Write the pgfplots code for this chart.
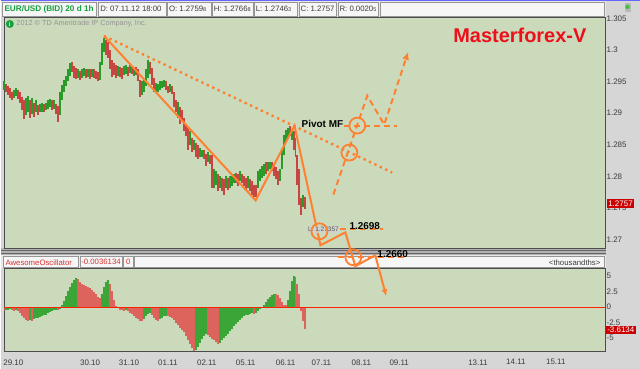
\documentclass[border=0pt]{standalone}
\usepackage{fontspec}
\setmainfont{Liberation Sans}
\usepackage{pgfplots}
\pgfplotsset{compat=1.18}
\usepackage{pgfplotstable}
\usetikzlibrary{arrows.meta}
\definecolor{panelbg}{RGB}{204,218,188}
\definecolor{outerbg}{RGB}{214,214,214}
\definecolor{hdrbg}{RGB}{232,232,232}
\definecolor{boxbg}{RGB}{246,246,246}
\definecolor{boxbd}{RGB}{150,150,150}
\definecolor{cgreen}{RGB}{40,155,40}
\definecolor{cred}{RGB}{200,70,66}
\definecolor{aogreen}{RGB}{60,165,55}
\definecolor{aored}{RGB}{220,100,92}
\definecolor{mfo}{RGB}{255,128,48}
\definecolor{tdgreen}{RGB}{20,160,60}
\definecolor{lblred}{RGB}{204,0,0}
\definecolor{txtgrey}{RGB}{60,60,60}
\definecolor{titlered}{RGB}{235,16,26}

% hourly bars: x position, low, high (price)
\pgfplotstableread{
x lo hi
3 1.2937 1.2950
13 1.2924 1.2937
15 1.2927 1.2940
25 1.2897 1.2924
27 1.2902 1.2927
31 1.2899 1.2924
35 1.2902 1.2921
39 1.2901 1.2915
41 1.2902 1.2916
45 1.2905 1.2916
47 1.2907 1.2920
49 1.2909 1.2923
53 1.2907 1.2920
59 1.2897 1.2934
61 1.2921 1.2945
63 1.2934 1.2953
65 1.2943 1.2959
67 1.2950 1.2969
69 1.2959 1.2980
77 1.2956 1.2969
81 1.2956 1.2969
83 1.2959 1.2972
87 1.2957 1.2970
91 1.2957 1.2970
99 1.2953 1.2981
101 1.2976 1.3011
103 1.2997 1.3019
117 1.2959 1.2975
123 1.2961 1.2975
125 1.2962 1.2976
129 1.2964 1.2976
133 1.2959 1.2972
141 1.2929 1.2950
143 1.2934 1.2953
145 1.2943 1.2969
147 1.2956 1.2984
155 1.2932 1.2948
157 1.2934 1.2946
159 1.2937 1.2950
161 1.2940 1.2951
163 1.2942 1.2953
169 1.2934 1.2946
177 1.2893 1.2918
189 1.2850 1.2871
193 1.2842 1.2858
199 1.2831 1.2845
201 1.2830 1.2842
207 1.2823 1.2839
213 1.2782 1.2811
215 1.2787 1.2808
219 1.2782 1.2801
225 1.2781 1.2801
229 1.2782 1.2800
231 1.2785 1.2801
233 1.2789 1.2804
239 1.2792 1.2808
247 1.2782 1.2801
257 1.2782 1.2808
259 1.2792 1.2811
261 1.2798 1.2817
263 1.2801 1.2820
267 1.2808 1.2822
269 1.2811 1.2823
279 1.2792 1.2811
281 1.2811 1.2842
283 1.2834 1.2866
285 1.2855 1.2874
287 1.2861 1.2877
291 1.2858 1.2874
303 1.2751 1.2770
}\greenc

\pgfplotstableread{
x lo hi
5 1.2934 1.2946
7 1.2929 1.2943
9 1.2924 1.2940
11 1.2920 1.2934
17 1.2923 1.2937
19 1.2916 1.2934
21 1.2905 1.2926
23 1.2890 1.2921
29 1.2893 1.2921
33 1.2894 1.2916
37 1.2897 1.2913
43 1.2902 1.2915
51 1.2905 1.2921
55 1.2899 1.2915
57 1.2886 1.2912
71 1.2965 1.2981
73 1.2956 1.2975
75 1.2954 1.2972
79 1.2953 1.2967
85 1.2956 1.2969
89 1.2954 1.2969
93 1.2956 1.2969
95 1.2954 1.2967
97 1.2950 1.2965
105 1.2992 1.3016
107 1.2987 1.3013
109 1.2969 1.3000
111 1.2957 1.2984
113 1.2961 1.2980
115 1.2956 1.2976
119 1.2957 1.2973
121 1.2954 1.2972
127 1.2959 1.2973
131 1.2962 1.2975
135 1.2961 1.2973
137 1.2950 1.2969
139 1.2926 1.2953
149 1.2962 1.2981
151 1.2945 1.2972
153 1.2934 1.2956
165 1.2937 1.2950
167 1.2932 1.2943
171 1.2931 1.2943
173 1.2909 1.2934
175 1.2902 1.2921
179 1.2882 1.2909
181 1.2887 1.2905
183 1.2871 1.2893
185 1.2864 1.2883
187 1.2842 1.2877
191 1.2839 1.2861
195 1.2830 1.2852
197 1.2827 1.2849
203 1.2827 1.2842
205 1.2817 1.2836
209 1.2819 1.2834
211 1.2782 1.2834
217 1.2776 1.2803
221 1.2776 1.2798
223 1.2771 1.2795
227 1.2779 1.2798
235 1.2790 1.2806
237 1.2785 1.2803
241 1.2789 1.2804
243 1.2785 1.2801
245 1.2779 1.2798
249 1.2776 1.2795
251 1.2771 1.2792
253 1.2767 1.2787
255 1.2767 1.2786
265 1.2804 1.2823
271 1.2808 1.2822
273 1.2801 1.2819
275 1.2795 1.2814
277 1.2786 1.2808
289 1.2864 1.2879
293 1.2842 1.2871
295 1.2830 1.2861
297 1.2787 1.2834
299 1.2755 1.2811
301 1.2739 1.2766
305 1.2748 1.2768
}\redc

% Awesome Oscillator (thousandths)
\pgfplotstableread{
x v
5 -0.5
7 -0.4
9 -0.3
15 -0.5
29 -2.1
33 -2.0
35 -1.8
37 -1.7
39 -1.6
41 -1.5
43 -1.3
45 -1.2
47 -1.0
49 -0.8
51 -0.7
53 -0.5
55 -0.4
59 -0.3
61 0.3
63 1.0
65 1.8
67 2.6
69 3.3
71 3.9
73 4.4
75 4.7
101 2.2
103 3.2
105 4.0
107 4.4
125 -0.5
143 -2.0
145 -1.5
147 -1.1
149 -1.0
159 -2.0
161 -1.7
163 -1.5
165 -1.4
195 -7.0
197 -6.5
199 -5.8
201 -5.1
203 -4.6
205 -4.4
219 -5.8
221 -5.4
223 -5.0
225 -4.6
227 -4.3
229 -3.9
231 -3.5
233 -3.1
235 -2.7
237 -2.4
239 -2.1
241 -1.8
243 -1.5
245 -1.3
247 -1.2
249 -1.1
251 -1.0
255 -0.9
257 -0.6
259 -0.3
261 -0.1
263 0.3
265 0.8
267 1.3
269 1.7
271 2.0
273 2.2
287 1.2
289 2.6
291 4.2
293 5.1
}\aog

\pgfplotstableread{
x v
3 -0.6
11 -0.5
13 -0.6
17 -0.7
19 -1.0
21 -1.4
23 -1.8
25 -2.1
27 -2.3
31 -2.2
57 -0.5
77 4.5
79 4.1
81 3.8
83 3.6
85 3.4
87 3.3
89 3.1
91 2.8
93 2.5
95 2.1
97 1.6
99 1.4
109 3.8
111 2.6
113 1.2
115 0.2
117 -0.2
119 -0.4
121 -0.5
123 -0.6
127 -0.7
129 -0.9
131 -1.1
133 -1.4
135 -1.7
137 -1.9
139 -2.2
141 -2.3
151 -1.3
153 -1.7
155 -2.1
157 -2.3
167 -1.5
169 -1.6
171 -1.8
173 -2.1
175 -2.5
177 -2.9
179 -3.3
181 -3.7
183 -4.1
185 -4.7
187 -5.3
189 -5.9
191 -6.6
193 -7.2
207 -4.5
209 -4.8
211 -5.1
213 -5.4
215 -5.7
217 -5.9
253 -1.1
275 2.2
277 1.9
279 1.4
281 0.8
283 0.4
285 0.3
295 4.8
297 3.8
299 2.2
301 -0.6
303 -2.2
305 -3.6
}\aor

\begin{document}
\begin{tikzpicture}[x=1pt,y=1pt]
\fill[outerbg] (0,0) rectangle (640,-370);
% top header
\fill[hdrbg] (0,-1) rectangle (606,-17);
\draw[blue!60,line width=1pt] (0,-0.5) -- (640,-0.5);
\foreach \a/\b in {0/96,96/166,166/211,211/253,253/298,298/337,337/379,379/605}
  \draw[boxbd,fill=boxbg,line width=0.6pt] (\a+0.8,-2.5) rectangle (\b-0.8,-16);
\node[anchor=west,inner sep=0pt,text=tdgreen,font=\fontsize{8.2}{10}\selectfont\bfseries] at (3,-9.3) {EUR/USD (BID) 20 d 1h};
\begin{scope}[every node/.style={anchor=west,inner sep=0pt,text=txtgrey,font=\fontsize{7.8}{9}\selectfont}]
\node at (99,-9.3) {D: 07.11.12 18:00};
\node at (168,-9.3) {O: 1.2759{\fontsize{5.5}{6}\selectfont 8}};
\node at (213,-9.3) {H: 1.2766{\fontsize{5.5}{6}\selectfont 8}};
\node at (255,-9.3) {L: 1.2746{\fontsize{5.5}{6}\selectfont 3}};
\node at (300,-9.3) {C: 1.2757};
\node at (339,-9.3) {R: 0.0020{\fontsize{5.5}{6}\selectfont 5}};
\end{scope}
\fill[gray!55] (625,-3) rectangle (631,-12);
\fill[green!50!gray] (628,-7) circle (2.2);
% separator between panels
\fill[gray!60] (0,-249) rectangle (606,-256);
\draw[gray!80!black,line width=0.6pt] (0,-251) -- (606,-251);
\draw[gray!80!black,line width=0.6pt] (0,-254.5) -- (606,-254.5);
% lower header
\fill[hdrbg] (0,-256) rectangle (606,-269);
\foreach \a/\b in {1/78,78/122,122/133,133/605}
  \draw[boxbd,fill=boxbg,line width=0.6pt] (\a+0.8,-257) rectangle (\b-0.8,-268.5);
\begin{scope}[every node/.style={inner sep=0pt,font=\fontsize{7.8}{9}\selectfont}]
\node[anchor=west,text=lblred!80] at (4,-263) {AwesomeOscillator};
\node[anchor=west,text=lblred!80] at (80,-263) {-0.0036134};
\node[anchor=west,text=lblred!80] at (125,-263) {0};
\node[anchor=east,text=txtgrey] at (601,-263) {<thousandths>};
\end{scope}

% lower panel: Awesome Oscillator
\begin{axis}[at={(3pt,-269pt)},anchor=north west,width=603pt,height=83pt,scale only axis,
  xmin=3,xmax=606,ymin=-7.1,ymax=6.29,
  axis background/.style={fill=panelbg},
  axis line style={draw=gray!60!black,line width=0.6pt},
  major tick length=0pt,
  ytick={-5,-2.5,0,2.5,5},yticklabel pos=right,
  yticklabel style={anchor=west,xshift=-2.5pt,font=\fontsize{8}{9}\selectfont,text=txtgrey},
  xtick={12,89,128,167,206,245,285,321,361,399,478,516,556},
  xticklabels={29.10,30.10,31.10,01.11,02.11,05.11,06.11,07.11,08.11,09.11,13.11,14.11,15.11},
  xticklabel style={yshift=-5pt,font=\fontsize{8}{9}\selectfont,text=txtgrey},
  /pgf/number format/assume math mode=true]
\addplot[ycomb,draw=aogreen,line width=2pt,mark=none] table[x=x,y=v] {\aog};
\addplot[ycomb,draw=aored,line width=2pt,mark=none] table[x=x,y=v] {\aor};
\addplot[draw=red!75!orange,line width=0.9pt,mark=none] coordinates {(3,0) (606,0)};
\end{axis}

% main price panel
\begin{axis}[at={(3pt,-17pt)},anchor=north west,width=603pt,height=232pt,scale only axis,
  xmin=3,xmax=606,ymin=1.268615,ymax=1.305209,
  axis background/.style={fill=panelbg},
  axis line style={draw=gray!60!black,line width=0.6pt},
  major tick length=0pt,xtick=\empty,
  ytick={1.27,1.275,1.28,1.285,1.29,1.295,1.3,1.305},yticklabel pos=right,
  yticklabel style={anchor=west,xshift=-2.5pt,font=\fontsize{8}{9}\selectfont,text=txtgrey},
  /pgf/number format/fixed,/pgf/number format/precision=3,
  /pgf/number format/assume math mode=true,
  clip=false]
\addplot[draw=none,mark=none,error bars/.cd,y dir=minus,y explicit,error mark=none,
  error bar style={draw=cgreen,line width=2pt}]
  table[x=x,y=hi,y error expr=\thisrow{hi}-\thisrow{lo}] {\greenc};
\addplot[draw=none,mark=none,error bars/.cd,y dir=minus,y explicit,error mark=none,
  error bar style={draw=cred,line width=2pt}]
  table[x=x,y=hi,y error expr=\thisrow{hi}-\thisrow{lo}] {\redc};
% copyright
\node[anchor=west,inner sep=0pt,text=gray!85,font=\fontsize{7.3}{9}\selectfont] at (axis cs:15,1.30410) {2012 \textcopyright\ TD Ameritrade IP Company, Inc.};
\fill[tdgreen] (axis cs:8.5,1.30410) circle[radius=4pt];
\node[text=white,inner sep=0pt,font=\fontsize{6}{6}\selectfont\bfseries] at (axis cs:8.5,1.30410) {i};
\node[anchor=base,inner sep=0pt,text=titlered,font=\fontsize{20}{24}\selectfont\bfseries] at (axis cs:520,1.30111) {Masterforex-V};
% annotations
\addplot[mfo,line width=2.4pt,dash pattern=on 2.4pt off 3.6pt,mark=none] coordinates {(103,1.30221) (392,1.28060)};
\addplot[mfo,line width=2pt,mark=none,-{Latex[length=7pt,width=6pt]}] coordinates {(103,1.30221) (255,1.27619) (294,1.28802) (320,1.26909) (345,1.27114) (355,1.26578) (375,1.26751) (386,1.26104)};
\addplot[mfo,line width=2pt,dash pattern=on 6pt off 4pt,mark=none,-{Latex[length=8pt,width=7pt]}] coordinates {(333,1.27713) (367,1.29275) (384,1.28818) (408,1.29969)};
\addplot[mfo,line width=2pt,dash pattern=on 6pt off 4pt,mark=none] coordinates {(344,1.28802) (397,1.28802)};
\addplot[mfo,line width=2pt,dash pattern=on 6pt off 4pt,mark=none] coordinates {(340,1.27161) (383,1.27161)};
\addplot[mfo,line width=2pt,dash pattern=on 6pt off 4pt,mark=none] coordinates {(338,1.26720) (408,1.26720)};
\node[fill=gray!35,fill opacity=0.8,text opacity=1,text=gray!70!black,inner sep=1pt,font=\fontsize{6.5}{7}\selectfont] at (axis cs:323,1.27161) {L: 1.27357};
\draw[mfo,line width=1.8pt] (axis cs:319,1.27130) circle[radius=8pt];
\draw[mfo,line width=1.8pt] (axis cs:353,1.26720) circle[radius=8pt];
\draw[mfo,line width=1.8pt] (axis cs:349,1.28376) circle[radius=8pt];
\draw[mfo,line width=1.8pt] (axis cs:357,1.28802) circle[radius=8pt];
\node[anchor=west,inner sep=0pt,font=\fontsize{10}{12}\selectfont\bfseries] at (axis cs:301,1.28833) {Pivot MF};
\node[anchor=west,inner sep=0pt,font=\fontsize{10}{12}\selectfont\bfseries] at (axis cs:349,1.27209) {1.2698};
\node[anchor=west,inner sep=0pt,font=\fontsize{10}{12}\selectfont\bfseries] at (axis cs:377,1.26767) {1.2660};
\end{axis}
% price labels on right
\node[fill=lblred,text=white,inner sep=1.5pt,anchor=west,font=\fontsize{8}{9}\selectfont] at (607,-204) {1.2757};
\node[fill=lblred,text=white,inner sep=1.5pt,anchor=west,font=\fontsize{8}{9}\selectfont] at (606,-331) {-3.6134};
\end{tikzpicture}
\end{document}
